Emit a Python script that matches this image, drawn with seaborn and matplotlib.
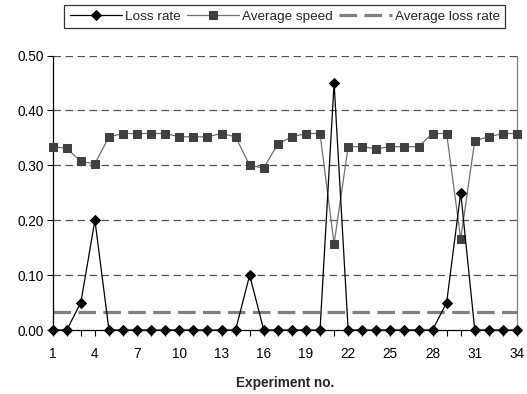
import matplotlib
matplotlib.use("Agg")
import matplotlib.pyplot as plt
import seaborn as sns
import numpy as np
import pandas as pd

experiments = list(range(1, 35))
loss_rate = [0, 0, 0.05, 0.20, 0, 0, 0, 0, 0, 0, 0, 0, 0, 0, 0.10, 0, 0, 0, 0, 0,
             0.45, 0, 0, 0, 0, 0, 0, 0, 0.05, 0.25, 0, 0, 0, 0]
avg_speed = [0.334, 0.331, 0.307, 0.303, 0.352, 0.358, 0.358, 0.358, 0.358, 0.352,
             0.352, 0.352, 0.358, 0.352, 0.300, 0.295, 0.339, 0.352, 0.358, 0.358,
             0.157, 0.334, 0.334, 0.330, 0.334, 0.334, 0.334, 0.358, 0.358, 0.166,
             0.345, 0.352, 0.358, 0.358]
avg_loss_rate = 0.032
y_ticks = [0.0, 0.1, 0.2, 0.3, 0.4, 0.5]

df = pd.DataFrame({"exp": experiments, "loss": loss_rate, "speed": avg_speed,
                   "avg": [avg_loss_rate] * len(experiments)})

sns.set_theme(style="white")
plt.rcParams["font.family"] = ["Liberation Sans", "DejaVu Sans"]

fig = plt.figure(figsize=(5.27, 3.94), dpi=100)
ax = fig.add_axes([0.100, 0.1624, 0.881, 0.6966])

# gridlines
for yv in y_ticks[1:]:
    ax.axhline(yv, color="#505050", lw=0.9, linestyle=(0, (6.0, 3.6)), zorder=1)

sns.lineplot(data=df, x="exp", y="speed", ax=ax, color="#707070", lw=0.9,
             marker="s", markersize=6, markerfacecolor="#404040",
             markeredgecolor="#404040", label="Average speed", zorder=3, clip_on=False)
sns.lineplot(data=df, x="exp", y="loss", ax=ax, color="black", lw=0.9,
             marker="D", markersize=4.6, markerfacecolor="black",
             markeredgecolor="black", label="Loss rate", zorder=4, clip_on=False)
sns.lineplot(data=df, x="exp", y="avg", ax=ax, color="#808080", lw=2.3,
             linestyle=(0, (5.5, 2.3)), label="Average loss rate", zorder=2)

ax.set_xlim(1, 34)
ax.set_ylim(0, 0.5)
ax.set_xticks(experiments)
ax.set_xticklabels([str(e) if (e - 1) % 3 == 0 else "" for e in experiments])
ax.set_yticks(y_ticks)
ax.set_yticklabels([f"{v:.2f}" for v in y_ticks])
ax.tick_params(axis="both", which="both", direction="out", length=4, width=0.8,
               color="black", labelsize=9.8, labelcolor="black", bottom=True, left=True)
ax.tick_params(axis="x", pad=8)
ax.tick_params(axis="y", pad=2.5)

for side in ["left", "bottom"]:
    ax.spines[side].set_color("black")
    ax.spines[side].set_linewidth(0.9)
ax.spines["right"].set_color("#808080")
ax.spines["right"].set_linewidth(0.9)
ax.spines["top"].set_visible(False)

ax.set_xlabel("Experiment no.", fontsize=9.8, fontweight="bold", labelpad=11)
ax.set_ylabel("")

ax.get_legend().remove()
handles, labels = ax.get_legend_handles_labels()
order = [labels.index("Loss rate"), labels.index("Average speed"), labels.index("Average loss rate")]
leg = fig.legend([handles[i] for i in order], [labels[i] for i in order],
                 loc="upper center", bbox_to_anchor=(0.54, 0.987), ncol=3,
                 fontsize=9.7, frameon=True, fancybox=False, edgecolor="black",
                 handlelength=3.9, handletextpad=0.22, columnspacing=0.45,
                 borderpad=0.4, borderaxespad=0.0)
leg.get_frame().set_linewidth(0.9)

fig.savefig("out.png", dpi=100)
